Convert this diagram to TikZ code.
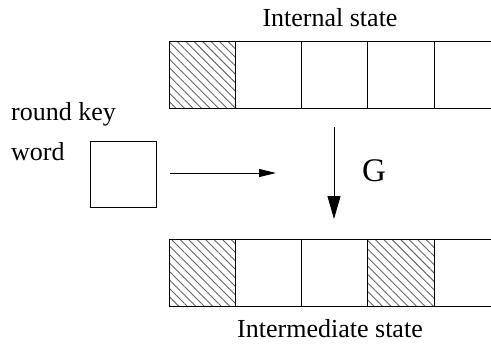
\documentclass[tikz,border=0pt]{standalone}
\usepackage{fontspec}
\setmainfont{Liberation Serif}
\usetikzlibrary{patterns.meta,arrows.meta}
\begin{document}
\begin{tikzpicture}[x=1pt,y=-1pt,
  cellbox/.style={draw,line width=1pt,minimum width=66.3pt,minimum height=67pt,inner sep=0pt,outer sep=0pt},
  hatched/.style={pattern={Lines[angle=-45,distance=6pt,line width=0.9pt]},pattern color=black!60},
  lbl/.style={font=\fontsize{26}{30}\selectfont,inner sep=0pt},
  conn/.style={line width=1pt}]
\useasboundingbox (0,0) rectangle (491,348);
% top row
\node[cellbox,hatched] (t1) at (202.2,74.5) {};
\node[cellbox] (t2) at (268.5,74.5) {};
\node[cellbox] (t3) at (334.8,74.5) {};
\node[cellbox] (t4) at (401.1,74.5) {};
\coordinate (t5a) at (491,41);
\coordinate (t5b) at (491,108);
\draw[conn] (t4.north east) -- (t5a);
\draw[conn] (t4.south east) -- (t5b);
% bottom row
\node[cellbox,hatched] (b1) at (202.2,272.5) {};
\node[cellbox] (b2) at (268.5,272.5) {};
\node[cellbox] (b3) at (334.8,272.5) {};
\node[cellbox,hatched] (b4) at (401.1,272.5) {};
\coordinate (b5a) at (491,239);
\coordinate (b5b) at (491,306);
\draw[conn] (b4.north east) -- (b5a);
\draw[conn] (b4.south east) -- (b5b);
% labels
\node[lbl] (tin) at (330,18) {Internal state};
\node[lbl] (tim) at (330,329) {Intermediate state};
\node[lbl,anchor=base west] (rk) at (11,121) {round key};
\node[lbl,anchor=base west] (wd) at (11,160) {word};
% key box
\node[draw,line width=1pt,minimum width=66pt,minimum height=66pt,inner sep=0pt] (key) at (123,174) {};
% arrows
\coordinate (ha) at (170,173);
\coordinate (hb) at (276,173);
\draw[conn,-{Triangle[length=17pt,width=8pt]}] (ha) -- (hb);
\coordinate (va) at (334,127);
\coordinate (vb) at (334,219);
\draw[conn,-{Triangle[length=23pt,width=13pt]}] (va) -- (vb);
\node[font=\fontsize{33}{38}\selectfont,inner sep=0pt] (g) at (374,171) {G};
\end{tikzpicture}
\end{document}
